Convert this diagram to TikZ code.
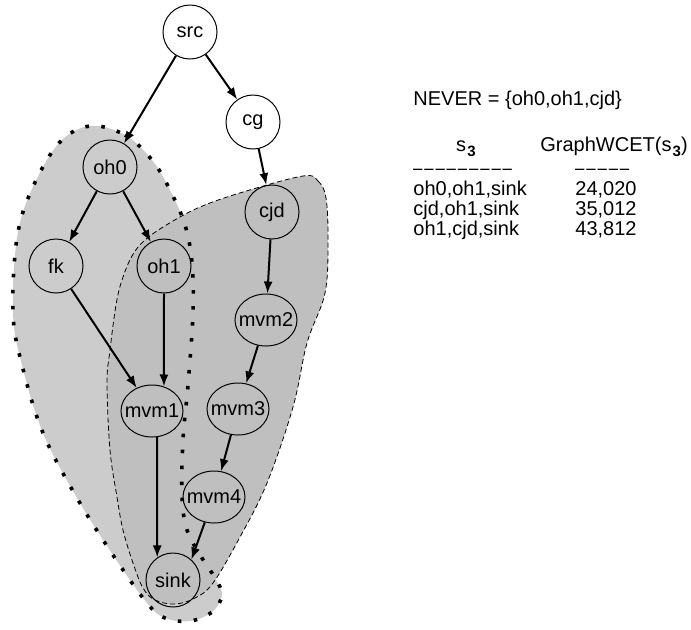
\documentclass[tikz,border=0pt]{standalone}
\usepackage{fontspec}
\setmainfont{Liberation Sans}
\usetikzlibrary{arrows.meta, shapes.geometric}
\definecolor{outerblob}{gray}{0.80}
\definecolor{innerblob}{gray}{0.75}
\newcommand{\subthree}{\kern0.6pt\raisebox{-0.5ex}{\fontsize{7.5}{8}\selectfont\bfseries 3}}
\newcommand{\tight}[1]{\makebox[0pt]{#1}}
\newcommand{\dashbit}{\scalebox{0.8}[1]{\_}\kern1.15pt}
\tikzset{vertex/.style = {shape = circle, draw, line width = 0.5pt, minimum size = 27pt, inner sep = 0pt, font = \fontsize{10}{12}\selectfont}}
\tikzset{wide vertex/.style = {vertex, shape = ellipse, minimum width = 31pt, minimum height = 26pt}}
\tikzset{edge/.style = {-{Latex[length=6pt,width=4.5pt]}, line width = 1pt}}
\tikzset{txt/.style = {inner sep = 0pt, font = \fontsize{10}{12}\selectfont}}

\begin{document}
\begin{tikzpicture}[x = 0.5pt, y = -0.5pt]
				\useasboundingbox (0, 0) rectangle (691, 629);

				% regions
				\fill[outerblob] plot[smooth cycle, tension = 0.6] coordinates {
					(90,126) (125,135) (152,160) (170,190) (185,225) (192,263) (193,313) (188,385)
					(183,440) (182,495) (187,530) (202,558) (215,578) (222,595) (212,612) (190,621)
					(165,618) (147,603) (115,558) (77,498) (43,433) (22,365) (13,313) (17,238)
					(32,189) (59,143)};
				\filldraw[innerblob, draw = black, line width = 0.4pt, dash pattern = on 2.5pt off 1.5pt]
					plot[smooth cycle, tension = 0.6] coordinates {
					(303,176) (318,181) (326,198) (328,240) (325,293) (307,343) (293,407) (267,483)
					(240,537) (213,583) (195,598) (175,604) (155,600) (143,588) (133,563) (123,530)
					(117,497) (110,450) (107,383) (110,350) (116,305) (122,280) (132,256) (145,240)
					(168,224) (200,207) (243,192)};
				\draw[line width = 1.8pt, dash pattern = on 1.8pt off 6.2pt] plot[smooth cycle, tension = 0.6] coordinates {
					(90,126) (125,135) (152,160) (170,190) (185,225) (192,263) (193,313) (188,385)
					(183,440) (182,495) (187,530) (202,558) (215,578) (222,595) (212,612) (190,621)
					(165,618) (147,603) (115,558) (77,498) (43,433) (22,365) (13,313) (17,238)
					(32,189) (59,143)};

				\node[vertex] (src) at (190, 32) {src};
				\node[vertex] (cg) at (253, 122) {cg};
				\node[vertex] (oh0) at (110, 167) {oh0};
				\node[vertex] (fk) at (56, 266) {fk};
				\node[vertex] (oh1) at (164, 266) {oh1};
				\node[vertex] (cjd) at (272, 212) {cjd};
				\node[wide vertex] (mvm2) at (266, 320) {\tight{mvm2}};
				\node[wide vertex] (mvm1) at (152, 411) {\tight{mvm1}};
				\node[wide vertex] (mvm3) at (238, 409) {\tight{mvm3}};
				\node[wide vertex] (mvm4) at (214, 497) {\tight{mvm4}};
				\node[vertex] (sink) at (173, 580) {sink};

				\draw[edge] (src) to (oh0);
				\draw[edge] (src) to (cg);
				\draw[edge] (cg) to (cjd);
				\draw[edge] (oh0) to (fk);
				\draw[edge] (oh0) to (oh1);
				\draw[edge] (fk) to (mvm1);
				\draw[edge] (oh1.south) to (mvm1.64);
				\draw[edge] (cjd) to (mvm2);
				\draw[edge] (mvm2) to (mvm3);
				\draw[edge] (mvm3) to (mvm4);
				\draw[edge] (mvm1.-79) to (sink.125);
				\draw[edge] (mvm4.-110) to (sink.48);

				% table
				\node[txt, anchor = base west] (never) at (413, 105) {NEVER = \{oh0,oh1,cjd\}};
				\node[txt, anchor = base] (headset) at (466, 151) {s\subthree};
				\node[txt, anchor = base west] (headwcet) at (540, 151) {GraphWCET(s\subthree)};
				\node[txt, anchor = base west] (ruleset) at (413, 166) {\dashbit\dashbit\dashbit\dashbit\dashbit\dashbit\dashbit\dashbit\dashbit};
				\node[txt, anchor = base west] (rulewcet) at (575, 166) {\dashbit\dashbit\dashbit\dashbit\dashbit};
				\node[txt, anchor = base west] (rowa) at (413, 195) {oh0,oh1,sink};
				\node[txt, anchor = base west] (rowb) at (413, 215) {cjd,oh1,sink};
				\node[txt, anchor = base west] (rowc) at (413, 235) {oh1,cjd,sink};
				\node[txt, anchor = base west] (vala) at (575, 195) {24,020};
				\node[txt, anchor = base west] (valb) at (575, 215) {35,012};
				\node[txt, anchor = base west] (valc) at (575, 235) {43,812};
			\end{tikzpicture}
\end{document}
